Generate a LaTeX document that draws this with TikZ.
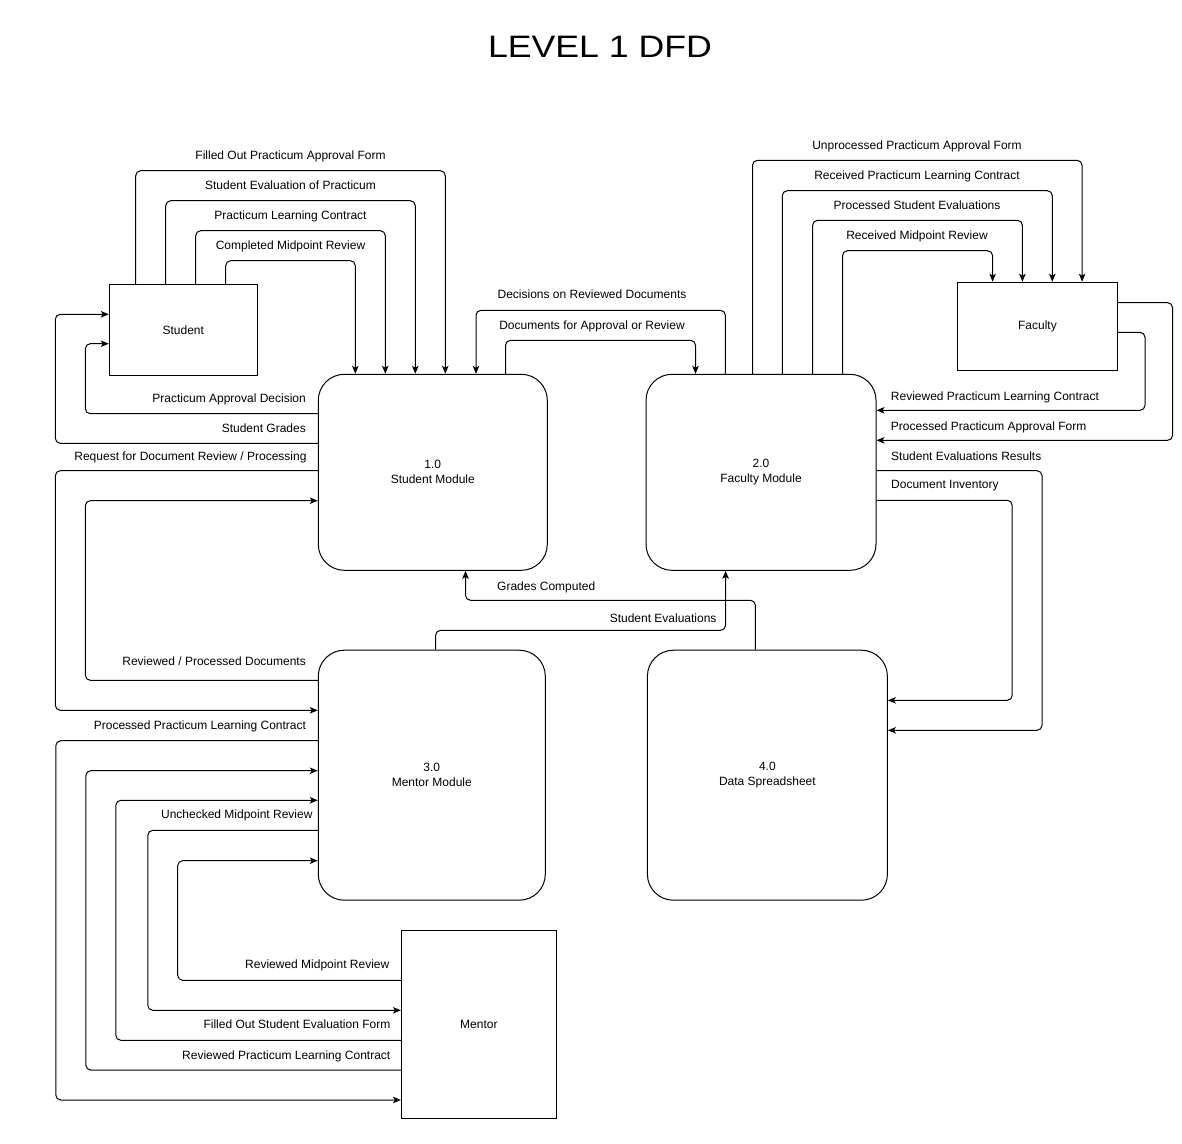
\documentclass[tikz,border=0pt]{standalone}
\usepackage{graphicx}
\usepackage{fontspec}
\setmainfont{Liberation Sans}
\usetikzlibrary{arrows.meta}
\tikzset{
  entity/.style={draw, line width=1pt, inner sep=0pt},
  process/.style={draw, line width=1pt, rounded corners=26pt, align=center, inner sep=0pt},
  flow/.style={line width=1pt, rounded corners=5pt, -{Stealth[length=8pt,width=6.5pt,inset=2pt]}},
  lbl/.style={inner sep=0pt, text height=10pt, text depth=2pt},
}

\begin{document}
\begin{tikzpicture}[x=1pt, y=-1pt, font=\fontsize{12}{15}\selectfont]
    \fill[white] (0,0) rectangle (1182,1143);
    \useasboundingbox (0,0) rectangle (1182,1143);

    \node (title) at (600,46.5) {\fontsize{31}{36}\selectfont\scalebox{1.15}[1]{LEVEL 1 DFD}};

    \node[entity, minimum width=148pt, minimum height=91pt] (student) at (183.3,329.8) {Student};
    \node[entity, minimum width=160pt, minimum height=88pt] (faculty) at (1037.4,326.2) {Faculty};
    \node[entity, minimum width=155pt, minimum height=188pt] (mentor) at (478.9,1024) {Mentor};

    \node[process, minimum width=229pt, minimum height=196pt] (mod1) at (432.8,472.3) {1.0\\Student Module};
    \node[process, minimum width=230pt, minimum height=196pt] (mod2) at (761,472.3) {2.0\\Faculty Module};
    \node[process, minimum width=227pt, minimum height=250pt] (mod3) at (431.8,775.2) {3.0\\Mentor Module};
    \node[process, minimum width=240pt, minimum height=250pt] (mod4) at (767.4,775.2) {4.0\\Data Spreadsheet};

    \draw[flow] (student.north -| 135.7,0) |- (445.3,170.7) -- (mod1.north -| 445.3,0);
    \draw[flow] (student.north -| 165.7,0) |- (415.3,200.7) -- (mod1.north -| 415.3,0);
    \draw[flow] (student.north -| 195.7,0) |- (385.3,230.7) -- (mod1.north -| 385.3,0);
    \draw[flow] (student.north -| 225.7,0) |- (355.3,260.7) -- (mod1.north -| 355.3,0);
    \node[lbl] (lFilled) at (290.5,155.7) {Filled Out Practicum Approval Form};
    \node[lbl] (lEval) at (290.5,185.7) {Student Evaluation of Practicum};
    \node[lbl] (lContract) at (290.5,215.7) {Practicum Learning Contract};
    \node[lbl] (lMidpoint) at (290.5,245.7) {Completed Midpoint Review};

    \draw[flow] (mod2.north -| 725.4,0) |- (476,310.3) -- (mod1.north -| 476,0);
    \draw[flow] (mod1.north -| 505.5,0) |- (695.5,340.3) -- (mod2.north -| 695.5,0);
    \node[lbl] (lDecisions) at (592,294.7) {Decisions on Reviewed Documents};
    \node[lbl] (lDocs) at (592,325.5) {Documents for Approval or Review};

    \draw[flow] (mod1.west |- 0,413.7) -| (85.3,343.7) -- (student.west |- 0,343.7);
    \draw[flow] (mod1.west |- 0,443.3) -| (55.3,314.3) -- (student.west |- 0,314.3);
    \draw[flow] (mod1.west |- 0,470.7) -| (55.3,710.3) -- (mod3.west |- 0,710.3);
    \draw[flow] (mod3.west |- 0,680.3) -| (85.3,500.7) -- (mod1.west |- 0,500.7);
    \node[lbl, anchor=east] (lDecision) at (306,398.7) {Practicum Approval Decision};
    \node[lbl, anchor=east] (lGrades) at (306,428.7) {Student Grades};
    \node[lbl, anchor=east] (lRequest) at (306.7,456.7) {Request for Document Review / Processing};
    \node[lbl, anchor=east] (lReviewed) at (306,661.7) {Reviewed / Processed Documents};

    \draw[flow] (mod3.west |- 0,740.7) -| (55.8,1100) -- (mentor.west |- 0,1100);
    \draw[flow] (mentor.west |- 0,1070) -| (85.8,770.7) -- (mod3.west |- 0,770.7);
    \draw[flow] (mentor.west |- 0,1040.3) -| (115.8,800.3) -- (mod3.west |- 0,800.3);
    \draw[flow] (mod3.west |- 0,830.3) -| (147.8,1010.3) -- (mentor.west |- 0,1010.3);
    \draw[flow] (mentor.west |- 0,980.3) -| (177.7,860.7) -- (mod3.west |- 0,860.7);
    \node[lbl, anchor=east] (lProcContract) at (306.2,725.7) {Processed Practicum Learning Contract};
    \node[lbl, anchor=east] (lRevContract) at (390.5,1055.7) {Reviewed Practicum Learning Contract};
    \node[lbl, anchor=east] (lEvalForm) at (390.5,1024.3) {Filled Out Student Evaluation Form};
    \node[lbl, anchor=east] (lUnchecked) at (312.7,814.3) {Unchecked Midpoint Review};
    \node[lbl, anchor=east] (lRevMidpoint) at (389.5,964.3) {Reviewed Midpoint Review};

    \draw[flow] (mod4.north -| 755.4,0) |- (465.5,600.3) -- (mod1.south -| 465.5,0);
    \draw[flow] (mod3.north -| 435.6,0) |- (725.6,630.3) -- (mod2.south -| 725.6,0);
    \node[lbl, anchor=west] (lComputed) at (497,586.7) {Grades Computed};
    \node[lbl, anchor=east] (lStudEval) at (716.7,618.7) {Student Evaluations};

    \draw[flow] (mod2.east |- 0,470.7) -| (1042,730.3) -- (mod4.east |- 0,730.3);
    \draw[flow] (mod2.east |- 0,500.3) -| (1012.2,700.3) -- (mod4.east |- 0,700.3);
    \node[lbl, anchor=west] (lResults) at (891,456.7) {Student Evaluations Results};
    \node[lbl, anchor=west] (lInventory) at (891,484.7) {Document Inventory};

    \draw[flow] (mod2.north -| 752.5,0) |- (1082.1,160.3) -- (faculty.north -| 1082.1,0);
    \draw[flow] (mod2.north -| 782.3,0) |- (1052.3,190.7) -- (faculty.north -| 1052.3,0);
    \draw[flow] (mod2.north -| 812.6,0) |- (1022.4,220.3) -- (faculty.north -| 1022.4,0);
    \draw[flow] (mod2.north -| 842.5,0) |- (992.6,250.7) -- (faculty.north -| 992.6,0);
    \node[lbl] (lUnprocessed) at (917,145) {Unprocessed Practicum Approval Form};
    \node[lbl] (lRecContract) at (917,175.5) {Received Practicum Learning Contract};
    \node[lbl] (lProcEval) at (917,205.3) {Processed Student Evaluations};
    \node[lbl] (lRecMidpoint) at (917,235.7) {Received Midpoint Review};

    \draw[flow] (faculty.east |- 0,332.3) -| (1145,410.3) -- (mod2.east |- 0,410.3);
    \draw[flow] (faculty.east |- 0,302.7) -| (1172.6,440.3) -- (mod2.east |- 0,440.3);
    \node[lbl, anchor=west] (lRevPLC) at (890.7,396.7) {Reviewed Practicum Learning Contract};
    \node[lbl, anchor=west] (lProcForm) at (890.7,426.7) {Processed Practicum Approval Form};
\end{tikzpicture}
\end{document}
